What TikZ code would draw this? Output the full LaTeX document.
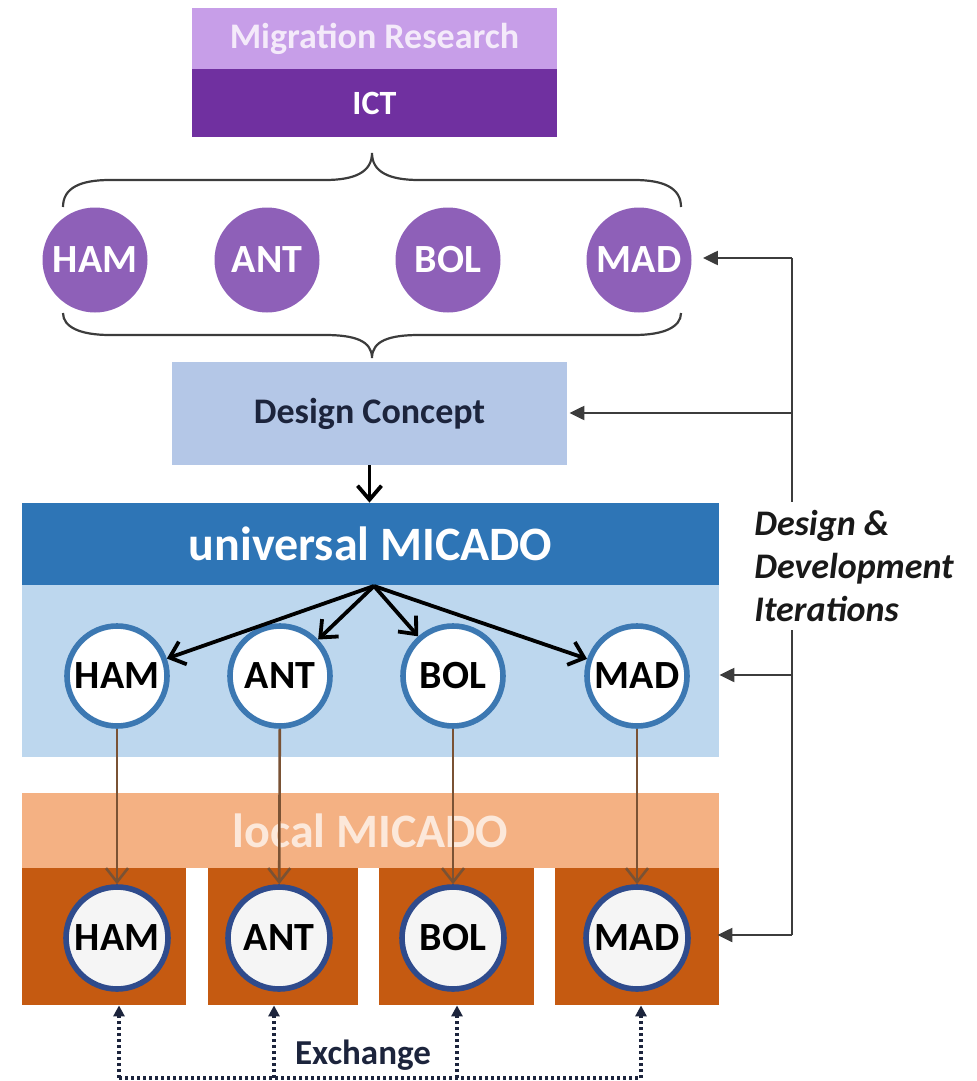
\documentclass[tikz,border=0pt]{standalone}
\usepackage{fontspec}
\setmainfont{Carlito}
\usetikzlibrary{arrows.meta}
\definecolor{mrlight}{RGB}{199,158,232}
\definecolor{ictdark}{RGB}{112,48,160}
\definecolor{cpurple}{RGB}{142,96,184}
\definecolor{dcblue}{RGB}{180,199,231}
\definecolor{navytext}{RGB}{28,36,60}
\definecolor{unidark}{RGB}{46,117,182}
\definecolor{unilight}{RGB}{189,215,238}
\definecolor{ringblue}{RGB}{60,120,178}
\definecolor{loclight}{RGB}{244,177,131}
\definecolor{locdark}{RGB}{197,90,17}
\definecolor{ringnavy}{RGB}{47,75,140}
\definecolor{brownline}{RGB}{122,82,52}
\definecolor{loctext}{RGB}{252,232,218}
\definecolor{mrtext}{RGB}{244,234,250}
\definecolor{linegray}{RGB}{60,60,60}
\begin{document}
\begin{tikzpicture}[x=0.5pt,y=-0.5pt,
  band/.style={rectangle, inner sep=0pt, draw=none},
  cfont/.style={font=\bfseries\fontsize{20}{20}\selectfont},
  pcirc/.style={circle, fill=cpurple, minimum size=52.5pt, inner sep=0pt, text=white, cfont},
  ucirc/.style={circle, fill=white, draw=ringblue, line width=2.8pt, minimum size=50pt, inner sep=0pt, cfont},
  lcirc/.style={circle, fill=white!96!black, draw=ringnavy, line width=2.8pt, minimum size=51pt, inner sep=0pt, cfont},
  lbox/.style={band, fill=locdark, minimum height=68.5pt},
  bracepath/.style={draw=linegray, line width=1.1pt},
  uarrow/.style={draw=black, line width=1.9pt, -{Straight Barb[length=7pt,width=12pt]}},
  barrow/.style={draw=brownline, line width=1.3pt, -{Straight Barb[length=7pt,width=11pt]}},
  rline/.style={draw=linegray, line width=1.1pt},
  rarrow/.style={draw=linegray, line width=1.1pt, -{Triangle[length=7.5pt,width=7pt]}},
  xline/.style={draw=navytext, line width=1.8pt, dash pattern=on 1.5pt off 1.5pt},
  xarrow/.style={xline, -{Triangle[length=5.5pt,width=5.5pt]}}
]
\useasboundingbox (0,0) rectangle (976,1081);

% top boxes
\node[band, fill=mrlight, minimum width=182.5pt, minimum height=30.5pt, text=mrtext,
      font=\bfseries\fontsize{18}{20}\selectfont] (mr) at (374.5,38.5) {Migration Research};
\node[band, fill=ictdark, minimum width=182.5pt, minimum height=34pt, text=white,
      font=\bfseries\fontsize{17}{20}\selectfont] (ict) at (374.5,103) {ICT};

% braces
\draw[bracepath] (63,207) .. controls (63,188) and (80,180) .. (110,180) -- (325,180)
  .. controls (355,180) and (372,172) .. (372,153)
  .. controls (372,172) and (389,180) .. (419,180) -- (634,180)
  .. controls (664,180) and (681,188) .. (681,207);
\draw[bracepath] (63,313) .. controls (63,327) and (80,335) .. (110,335) -- (325,335)
  .. controls (355,335) and (372,341) .. (372,358)
  .. controls (372,341) and (389,335) .. (419,335) -- (634,335)
  .. controls (664,335) and (681,327) .. (681,313);

% top circles
\node[pcirc] (pham) at (95,260) {HAM};
\node[pcirc] (pant) at (267,260) {ANT};
\node[pcirc] (pbol) at (448,260) {BOL};
\node[pcirc] (pmad) at (639,260) {MAD};

% design concept
\node[band, fill=dcblue, minimum width=197.5pt, minimum height=51.5pt, text=navytext,
      font=\bfseries\fontsize{18}{20}\selectfont] (dc) at (369.5,413.5) {Design Concept};

% universal
\node[band, fill=unilight, minimum width=348.5pt, minimum height=86pt] (ulight) at (370.5,671) {};
\node[band, fill=unidark, minimum width=348.5pt, minimum height=41pt, text=white,
      font=\bfseries\fontsize{24}{26}\selectfont] (uni) at (370.5,544) {universal MICADO};
\node[ucirc] (uham) at (117,676) {HAM};
\node[ucirc] (uant) at (280,676) {ANT};
\node[ucirc] (ubol) at (453,676) {BOL};
\node[ucirc] (umad) at (637,676) {MAD};

% local
\node[band, fill=loclight, minimum width=348.5pt, minimum height=37.5pt, text=loctext,
      font=\bfseries\fontsize{24}{26}\selectfont] (loc) at (370.5,830.5) {local MICADO};
\node[lbox, minimum width=82pt] (bham) at (104,936.5) {};
\node[lbox, minimum width=75pt] (bant) at (283,936.5) {};
\node[lbox, minimum width=77.5pt] (bbol) at (456.5,936.5) {};
\node[lbox, minimum width=82pt] (bmad) at (637,936.5) {};
\node[lcirc] (lham) at (117,938) {HAM};
\node[lcirc] (lant) at (279,938) {ANT};
\node[lcirc] (lbol) at (453,938) {BOL};
\node[lcirc] (lmad) at (637,938) {MAD};

% arrows: design concept -> universal
\draw[uarrow] (dc.south) -- (dc.south |- uni.north);
\coordinate (usrc) at (374,586);
\draw[uarrow] (usrc) -- (uham);
\draw[uarrow] (usrc) -- (uant);
\draw[uarrow] (usrc) -- (ubol);
\draw[uarrow] (usrc) -- (umad);

% brown arrows universal -> local
\draw[barrow] (uham) -- (lham);
\draw[barrow] (uant) -- (lant);
\draw[barrow] (ubol) -- (lbol);
\draw[barrow] (umad) -- (lmad);

% iteration loop
\coordinate (r1) at (792,258);
\coordinate (r2) at (792,413);
\coordinate (r3) at (792,675);
\coordinate (r4) at (792,935);
\draw[rline] (r1) -- (r4);
\draw[rarrow, shorten >=5.5pt] (r1) -- (r1 -| pmad.east);
\draw[rarrow, shorten >=1pt] (r2) -- (r2 -| dc.east);
\draw[rarrow] (r3) -- (r3 -| ulight.east);
\draw[rarrow, shorten >=-1pt] (r4) -- (r4 -| bmad.east);
\node[anchor=west, fill=white, align=left, inner sep=4pt, text=black!90,
      font=\bfseries\itshape\fontsize{18}{21.5}\selectfont] (iter) at (746,566)
      {Design \&\\Development\\Iterations};

% exchange
\coordinate (e1) at (119,1078);
\coordinate (e2) at (274,1078);
\coordinate (e3) at (457,1078);
\coordinate (e4) at (641,1078);
\draw[xline] (e1) -- (e4);
\draw[xarrow] (e1) -- (e1 |- bham.south);
\draw[xarrow] (e2) -- (e2 |- bant.south);
\draw[xarrow] (e3) -- (e3 |- bbol.south);
\draw[xarrow] (e4) -- (e4 |- bmad.south);
\node[text=navytext, font=\bfseries\fontsize{17.5}{20}\selectfont] (ex) at (363,1055) {Exchange};
\end{tikzpicture}
\end{document}
